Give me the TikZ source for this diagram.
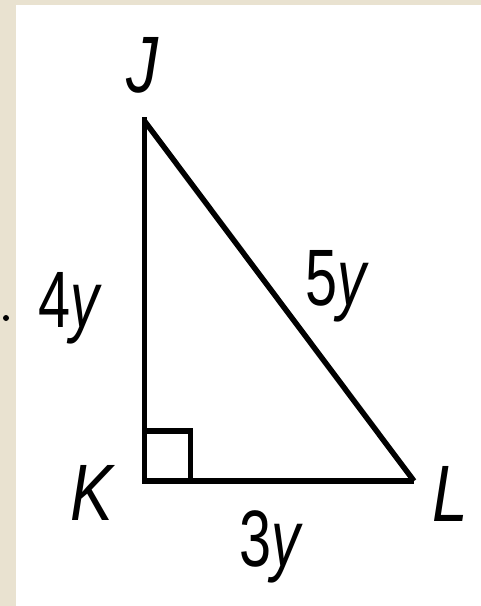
\documentclass[tikz,border=0pt]{standalone}
\usepackage{fontspec}
\setmainfont{Liberation Sans}
\definecolor{beige}{HTML}{E9E2D0}
\begin{document}
\begin{tikzpicture}[x=1pt,y=-1pt,
  edge/.style={line width=5.5pt},
  lbl/.style={inner sep=0pt,anchor=base west,font=\fontsize{80}{80}\selectfont}]
\useasboundingbox (0,0) rectangle (481,606);
\fill[white] (0,0) rectangle (481,606);
\fill[beige] (0,0) rectangle (16,606);
\fill[beige] (0,0) rectangle (481,5);
\fill[black] (6,318) circle (3);
\coordinate (J) at (144.5,117);
\coordinate (K) at (144.5,481);
\coordinate (L) at (414,481);
\coordinate (Jh) at (144.5,121);
\coordinate (S1) at (144.5,431);
\coordinate (S2) at (190.5,431);
\coordinate (S3) at (190.5,481);
\draw[edge,line join=miter] (J) -- (K) -- (L);
\draw[edge] (Jh) -- (L);
\draw[edge,line join=miter] (S1) -- (S2) -- (S3);
\node[lbl] (nJ) at (126,92) {\scalebox{0.8}[1]{\itshape J}};
\node[lbl] (nK) at (70,520) {\scalebox{0.8}[1]{\itshape K}};
\node[lbl] (nL) at (432,521) {\scalebox{0.8}[1]{\itshape L}};
\node[lbl] (n4) at (38,327) {\scalebox{0.72}[1]{4\itshape y}};
\node[lbl] (n5) at (305,305) {\scalebox{0.72}[1]{5\itshape y}};
\node[lbl] (n3) at (239,566) {\scalebox{0.72}[1]{3\itshape y}};
\end{tikzpicture}
\end{document}
